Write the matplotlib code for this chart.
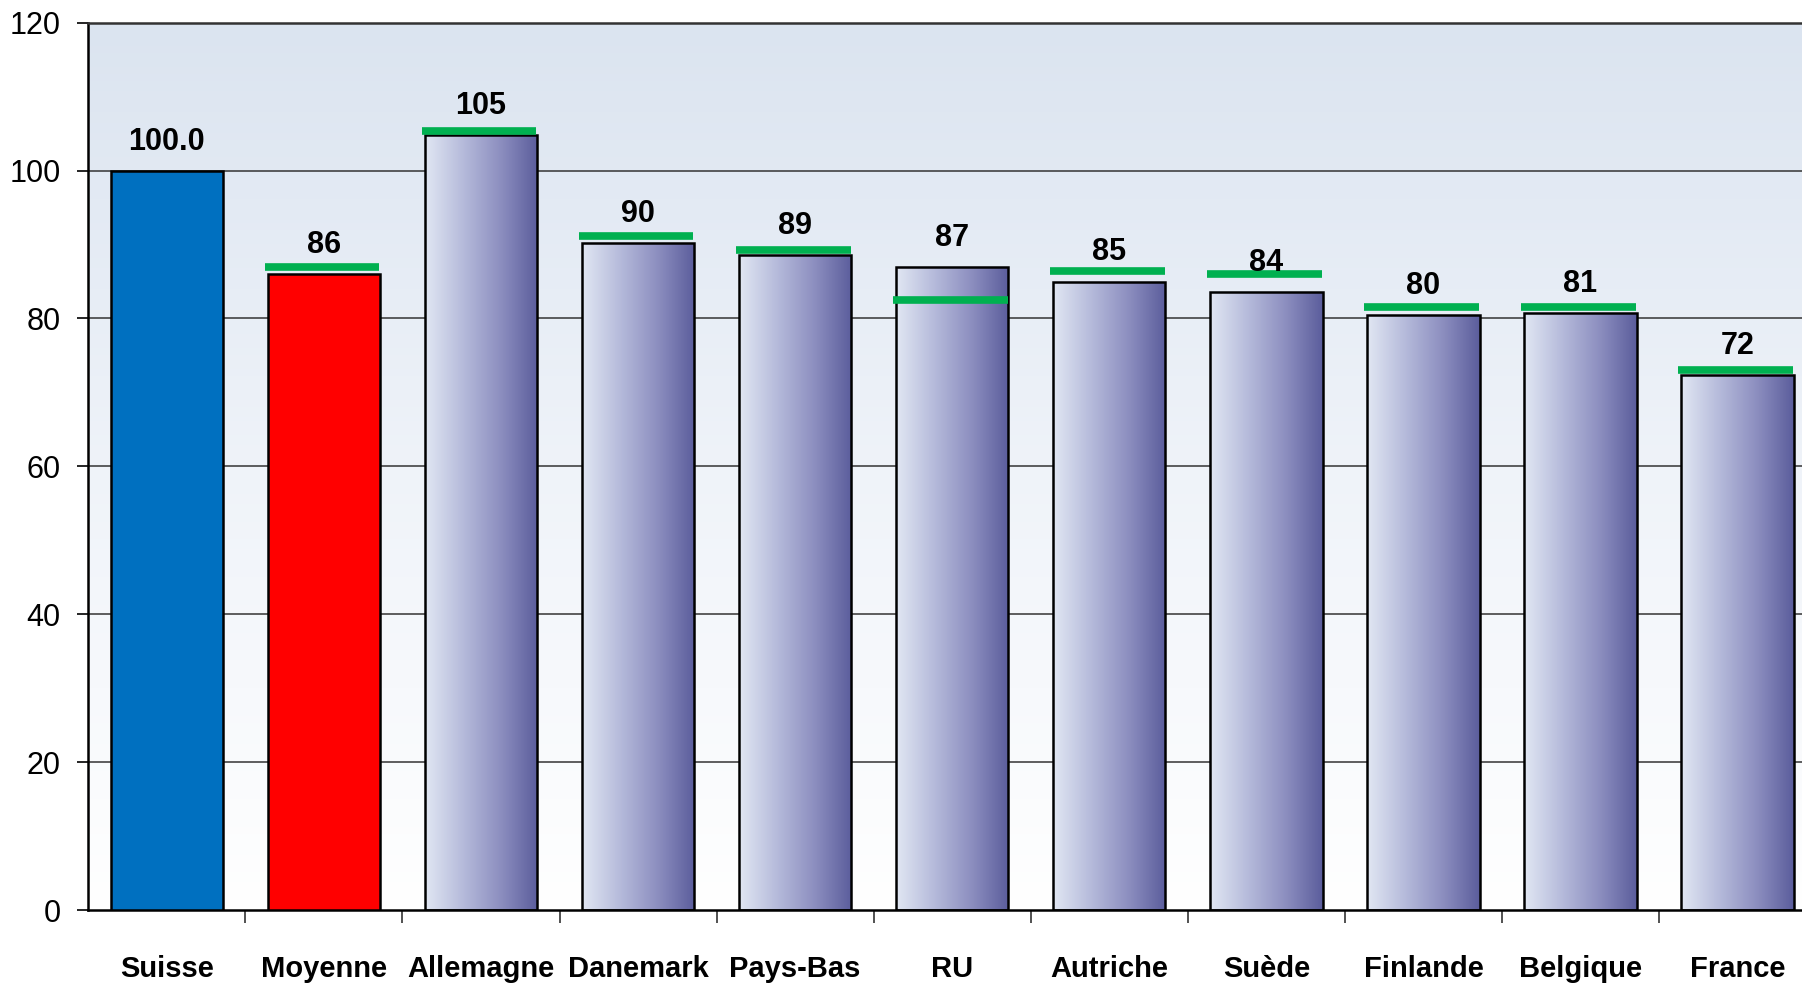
import numpy as np
import matplotlib
matplotlib.use("Agg")
import matplotlib.pyplot as plt
from matplotlib.colors import LinearSegmentedColormap

# data
pays = ["Suisse", "Moyenne", "Allemagne", "Danemark", "Pays-Bas", "RU",
        "Autriche", "Suède", "Finlande", "Belgique", "France"]
valeurs = [100.0, 86.0, 104.8, 90.2, 88.6, 86.9, 85.0, 83.6, 80.5, 80.7, 72.4]
marqueurs = [None, 87.0, 105.4, 91.1, 89.2, 82.5, 86.4, 86.0, 81.6, 81.6, 73.1]
etiquettes = ["100.0", "86", "105", "90", "89", "87", "85", "84", "80", "81", "72"]
yticks = [0, 20, 40, 60, 80, 100, 120]

plt.rcParams['font.family'] = ['Liberation Sans', 'DejaVu Sans']

fig = plt.figure(figsize=(18.02, 9.85), dpi=100)
ax = fig.add_axes([0.049, 0.076, 0.951, 0.901])

x = np.arange(len(pays))
largeur = 0.715
xmax = 10.41
ax.set_xlim(-0.5, xmax)
ax.set_ylim(0, 120)

# background gradient (light blue at top to white at bottom)
bg = LinearSegmentedColormap.from_list("bg", ["#ffffff", "#eff3f9", "#dbe4f0"])
ax.imshow(np.linspace(0, 1, 256).reshape(-1, 1), cmap=bg, aspect="auto",
          extent=(-0.5, xmax, 0, 120), origin="lower", zorder=0)

for yv in yticks[1:]:
    ax.axhline(yv, color="#333333", lw=1.1, zorder=1)

bar_cmap = LinearSegmentedColormap.from_list(
    "barre", ["#e1e7f3", "#b6bbdb", "#8d8fc0", "#5b5d9c"])
grad = np.linspace(0, 1, 256).reshape(1, -1)

couleurs = ["#0070c0", "#ff0000"] + [None] * (len(pays) - 2)
bars = ax.bar(x, valeurs, width=largeur, color=[c if c else "none" for c in couleurs],
              edgecolor="black", linewidth=1.8, zorder=3)
for b, c in zip(bars, couleurs):
    if c is None:
        x0 = b.get_x()
        im = ax.imshow(grad, cmap=bar_cmap, aspect="auto",
                       extent=(x0, x0 + b.get_width(), 0, b.get_height()), zorder=2)
        im.set_clip_path(b)

for xi, m in zip(x, marqueurs):
    if m is not None:
        ax.hlines(m, xi - largeur / 2 - 0.02, xi + largeur / 2 - 0.005,
                  color="#00b050", lw=5.5, zorder=4)

# value labels sit a fixed distance above the bar top
for xi, v, t in zip(x, valeurs, etiquettes):
    ax.text(xi, v + 1.9, t, ha="center", va="bottom", fontsize=22,
            fontweight="bold", zorder=5)

ax.set_yticks(yticks)
ax.set_yticklabels([str(v) for v in yticks], fontsize=22)
ax.tick_params(axis="y", length=8, width=1.2, pad=12)

ax.set_xticks(x[:-1] + 0.5)
ax.set_xticklabels([])
ax.tick_params(axis="x", length=9, width=1.2, color="#333333")
for xi, p in zip(x, pays):
    ax.text(xi, -6.0, p, ha="center", va="top", fontsize=21, fontweight="bold")

ax.spines["right"].set_visible(False)
ax.spines["left"].set_linewidth(1.8)
ax.spines["bottom"].set_linewidth(1.8)
ax.spines["top"].set_linewidth(1.8)
ax.spines["top"].set_color("#333333")

fig.savefig("out.png", dpi=100)
